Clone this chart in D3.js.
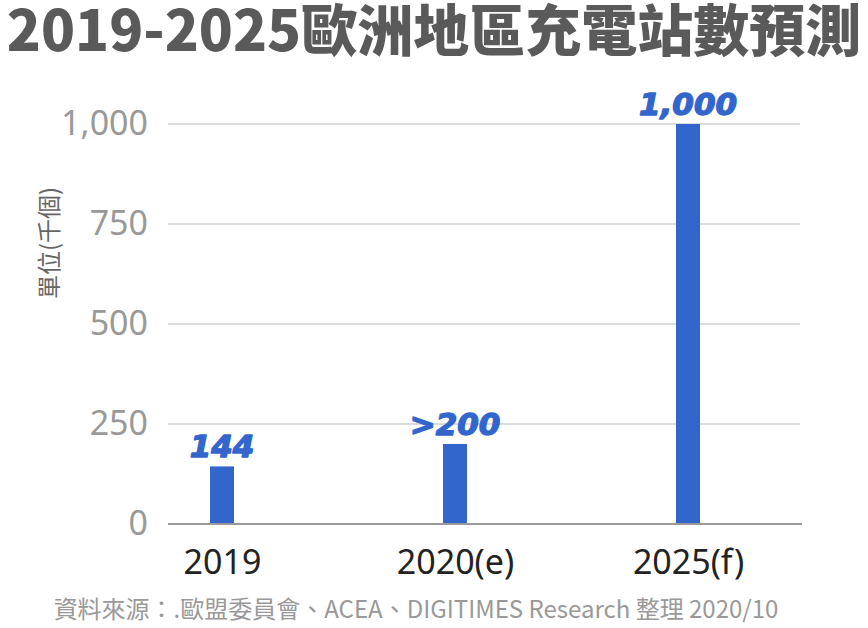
<!DOCTYPE html>
<html><head><meta charset="utf-8">
<script src="https://cdn.jsdelivr.net/npm/d3@7"></script>
<style>body{margin:0;background:#fff}svg{display:block}</style>
</head><body>
<svg id="c" width="868" height="628"></svg>
<script>
const categories = ["2019", "2020(e)", "2025(f)"];
const values = [144, 200, 1000];
const valueLabels = ["144", ">200", "1,000"];
const yTicks = [0, 250, 500, 750, 1000];
const title = "2019-2025歐洲地區充電站數預測";
const yTitle = "單位(千個)";
const source = "資料來源：.歐盟委員會、ACEA、DIGITIMES Research 整理 2020/10";

const svg = d3.select("#c");
const W = 868, H = 628;
const plot = {left: 170, right: 800, top: 124, bottom: 524};
const cjk = "'Noto Sans CJK TC','Noto Sans',sans-serif";

const x = d3.scalePoint().domain(categories).range([222, 688]);
const y = d3.scaleLinear().domain([0, 1000]).range([plot.bottom, plot.top]);

// title
svg.append("text").attr("x", W/2).attr("y", 51).attr("text-anchor", "middle")
  .attr("font-family", cjk).attr("font-weight", 900).attr("font-size", 56)
  .attr("fill", "#5a5a5a").text(title);

// grid
const yAxis = d3.axisLeft(y).tickValues(yTicks).tickFormat(d3.format(",")).tickSize(0).tickPadding(22);
const gy = svg.append("g").attr("transform", `translate(${plot.left},0)`).call(yAxis);
gy.select(".domain").remove();
gy.selectAll("text").attr("font-family", "'Noto Sans',sans-serif").attr("font-size", 34)
  .attr("fill", "#999");
svg.append("g").selectAll("line").data(yTicks.filter(d => d > 0)).join("line")
  .attr("x1", plot.left - 2).attr("x2", plot.right)
  .attr("y1", d => y(d)).attr("y2", d => y(d))
  .attr("stroke", "#dcdcdc").attr("stroke-width", 2);

// bars
const bw = 24;
svg.append("g").selectAll("rect").data(values).join("rect")
  .attr("x", (d, i) => x(categories[i]) - bw/2).attr("width", bw)
  .attr("y", d => y(d)).attr("height", d => y(0) - y(d))
  .attr("fill", "#3366cc");

// baseline
svg.append("line").attr("x1", plot.left - 2).attr("x2", plot.right + 2)
  .attr("y1", y(0)).attr("y2", y(0)).attr("stroke", "#999").attr("stroke-width", 2);

// value labels
svg.append("g").selectAll("text").data(values).join("text")
  .attr("x", (d, i) => x(categories[i])).attr("y", d => y(d) - 9)
  .attr("text-anchor", "middle").attr("font-family", "'DejaVu Sans',sans-serif")
  .attr("font-weight", 700).attr("font-style", "italic").attr("font-size", 31)
  .attr("fill", "#3366cc").attr("stroke", "#3366cc").attr("stroke-width", 1.4)
  .attr("stroke-linejoin", "round")
  .text((d, i) => valueLabels[i]);

// x axis labels
const xAxis = d3.axisBottom(x).tickSize(0).tickPadding(26);
const gx = svg.append("g").attr("transform", `translate(0,${plot.bottom})`).call(xAxis);
gx.select(".domain").remove();
gx.selectAll("text").attr("font-family", "'Noto Sans',sans-serif").attr("font-size", 34).attr("fill", "#222");

// y title
svg.append("text").attr("transform", `translate(58,243) rotate(-90)`).attr("text-anchor", "middle")
  .attr("font-family", cjk).attr("font-size", 24).attr("fill", "#666").text(yTitle);

// source
svg.append("text").attr("x", 416).attr("y", 618).attr("text-anchor", "middle")
  .attr("font-family", cjk).attr("font-size", 24).attr("fill", "#999").text(source);
</script>
</body></html>
